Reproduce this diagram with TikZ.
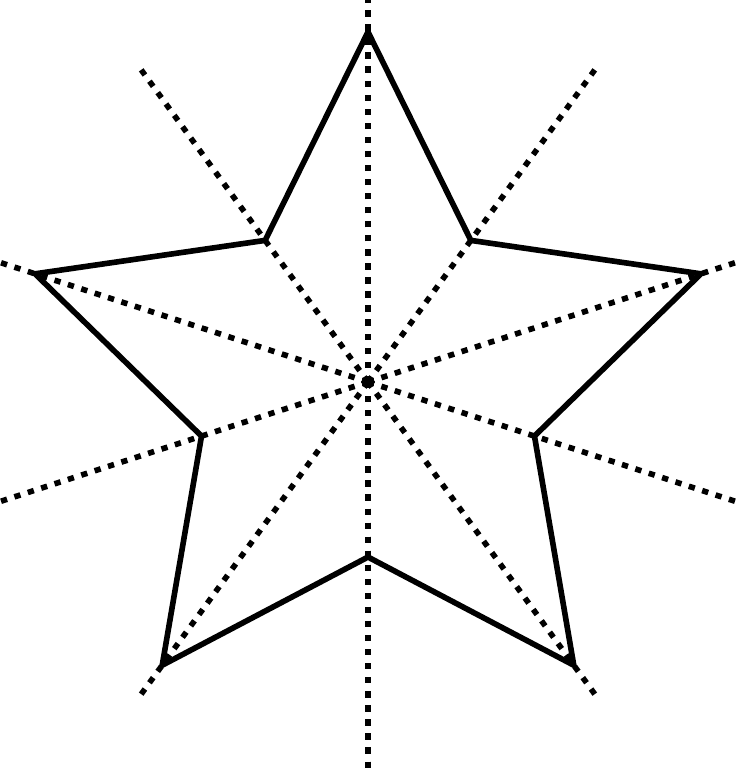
\documentclass[tikz,border=0pt]{standalone}
\begin{document}
\begin{tikzpicture}[scale=0.02,
    starline/.style={line width=3.2pt, line join=miter},
    symline/.style={line width=3.2pt, dash pattern=on 3.6pt off 4.4pt}]
        \useasboundingbox (-368,-388) rectangle (368,382);
        \clip (-368,-388) rectangle (368,382);
        \coordinate (c) at (0,0);
        % tips and notches of the star
        \foreach \i in {0,...,4}{
            \coordinate (tip\i) at ({90+72*\i}:350);
            \coordinate (notch\i) at ({126+72*\i}:175);
        }
        % dotted lines of symmetry
        \foreach \a in {0,...,9}{
            \draw[symline] (c) -- ({90+36*\a}:386);
        }
        \draw[symline] (c) -- (0,-390);
        \draw[starline] (tip0) -- (notch0) -- (tip1) -- (notch1) -- (tip2) -- (notch2)
            -- (tip3) -- (notch3) -- (tip4) -- (notch4) -- cycle;
    \end{tikzpicture}
\end{document}
